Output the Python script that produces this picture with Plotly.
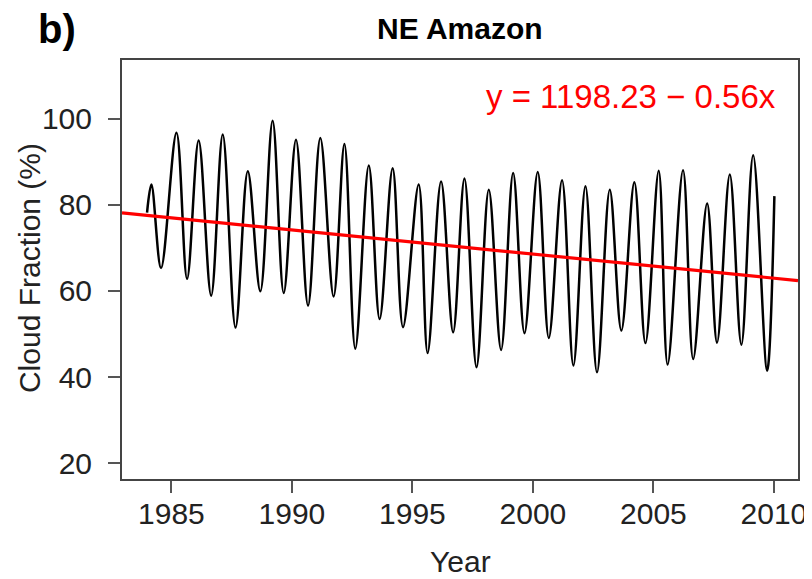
import plotly.graph_objects as go

# Extrema (peaks / troughs) of the cloud-fraction series
years = [1983.99, 1984.17, 1984.57, 1985.21, 1985.65, 1986.13, 1986.65, 1987.13,
         1987.66, 1988.17, 1988.69, 1989.20, 1989.66, 1990.17, 1990.67, 1991.18,
         1991.73, 1992.18, 1992.63, 1993.19, 1993.64, 1994.18, 1994.61, 1995.26,
         1995.63, 1996.19, 1996.69, 1997.16, 1997.66, 1998.17, 1998.68, 1999.18,
         1999.65, 2000.20, 2000.66, 2001.21, 2001.68, 2002.18, 2002.66, 2003.19,
         2003.67, 2004.21, 2004.67, 2005.22, 2005.59, 2006.23, 2006.65, 2007.23,
         2007.64, 2008.17, 2008.65, 2009.14, 2009.72, 2010.02]
cloud = [78.2, 84.7, 65.3, 96.7, 62.8, 94.9, 58.9, 96.3,
         51.5, 87.8, 59.9, 99.5, 59.5, 95.1, 56.6, 95.5,
         58.7, 94.1, 46.6, 89.1, 53.5, 88.5, 51.6, 84.7,
         45.6, 85.4, 50.4, 86.1, 42.3, 83.5, 46.3, 87.4,
         50.2, 87.6, 49.1, 85.7, 42.7, 84.3, 41.1, 83.5,
         50.8, 85.2, 47.9, 87.9, 42.9, 88.0, 44.2, 80.3,
         48.0, 87.0, 47.5, 91.5, 41.5, 82.0]

# Linear trend across the full axis width
trend_years = [1982.95, 2011.0]
trend_vals = [78.1, 62.4]

x_ticks = [1985, 1990, 1995, 2000, 2005, 2010]
y_ticks = [20, 40, 60, 80, 100]

FONT = "Liberation Sans, Arial, Helvetica, sans-serif"

fig = go.Figure()
fig.add_trace(go.Scatter(x=years, y=cloud, mode="lines",
                         line=dict(color="black", width=2.5, shape="spline", smoothing=1.0),
                         showlegend=False, hoverinfo="skip"))
fig.add_trace(go.Scatter(x=trend_years, y=trend_vals, mode="lines",
                         line=dict(color="#ff0000", width=3.2),
                         showlegend=False, hoverinfo="skip"))

axis_common = dict(showgrid=False, zeroline=False, showline=True, mirror=True,
                   linecolor="#444", linewidth=2, ticks="outside", ticklen=12,
                   tickwidth=1.5, tickcolor="#555",
                   tickfont=dict(family=FONT, size=30, color="#222"))

fig.update_xaxes(range=[1982.95, 2011.0], tickvals=x_ticks,
                 ticktext=[str(v) for v in x_ticks], ticklabelstandoff=-5, **axis_common)
fig.update_yaxes(range=[16.35, 113.6], tickvals=y_ticks,
                 ticktext=[str(v) for v in y_ticks], ticklabelstandoff=10, **axis_common)

fig.update_layout(
    width=812, height=579,
    margin=dict(l=114, r=22, t=52, b=108),
    paper_bgcolor="white", plot_bgcolor="white",
    annotations=[
        dict(text="<b>NE Amazon</b>", xref="paper", yref="paper", x=0.5, y=1.074,
             xanchor="center", yanchor="middle", showarrow=False,
             font=dict(family=FONT, size=30, color="black")),
        dict(text="<b>b)</b>", xref="paper", yref="paper", x=-0.096, y=1.074,
             xanchor="center", yanchor="middle", showarrow=False,
             font=dict(family=FONT, size=40, color="black")),
        dict(text="y = 1198.23 \u2212 0.56x", xref="paper", yref="paper", x=0.970, y=0.914,
             xanchor="right", yanchor="middle", showarrow=False,
             font=dict(family=FONT, size=33, color="#ff0000")),
        dict(text="Year", xref="paper", yref="paper", x=0.5, y=-0.198,
             xanchor="center", yanchor="middle", showarrow=False,
             font=dict(family=FONT, size=30, color="#222")),
        dict(text="Cloud Fraction (%)", xref="paper", yref="paper", x=-0.136, y=0.5036,
             xanchor="center", yanchor="middle", showarrow=False, textangle=-90,
             font=dict(family=FONT, size=30, color="#222")),
    ],
)

fig.write_html("out.html")
